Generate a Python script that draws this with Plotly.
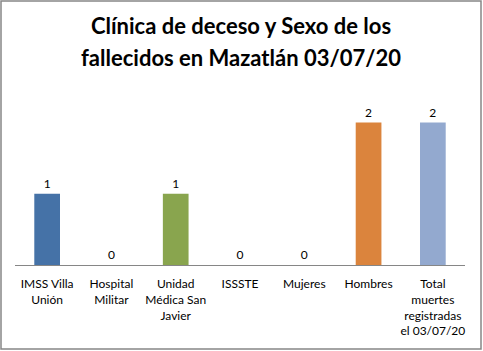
import plotly.graph_objects as go

categories = ["IMSS Villa<br>Unión", "Hospital<br>Militar", "Unidad<br>Médica San<br>Javier",
              "ISSSTE", "Mujeres", "Hombres", "Total<br>muertes<br>registradas<br>el 03/07/20"]
values = [1, 0, 1, 0, 0, 2, 2]
colors = ["#4572A7", "#AA4643", "#89A54E", "#71588F", "#4198AF", "#DB843D", "#93A9CF"]
title_lines = ["Clínica de deceso y Sexo de los", "fallecidos en Mazatlán 03/07/20"]

W, H = 483, 351
ml, mr, mt, mb = 15, 18, 87, 86
PW, PH = W - ml - mr, H - mt - mb
FONT = "Lato, Open Sans, sans-serif"

fig = go.Figure(go.Bar(
    x=categories, y=values, marker=dict(color=colors, line=dict(width=0)),
    text=[str(v) for v in values], textposition="outside", cliponaxis=False,
    textfont=dict(family=FONT, size=12, color="#000000"),
))

annotations = []
for i, (line, ypix) in enumerate(zip(title_lines, [25, 57])):
    annotations.append(dict(
        text="<b>" + line + "</b>", xref="paper", yref="paper",
        x=(241 - ml) / PW, y=1 + (mt - ypix) / PH, xanchor="center", yanchor="middle",
        showarrow=False, font=dict(family=FONT, size=22, color="#000000")))

fig.update_layout(
    width=W, height=H,
    margin=dict(l=ml, r=mr, t=mt, b=mb),
    paper_bgcolor="white", plot_bgcolor="white",
    bargap=0.6, showlegend=False,
    annotations=annotations,
    xaxis=dict(showline=True, linecolor="#868686", linewidth=1, ticks="",
               ticklabelstandoff=8,
               tickfont=dict(family=FONT, size=12, color="#000000"), fixedrange=True),
    yaxis=dict(range=[0, 2.5], visible=False, showgrid=False, zeroline=False),
    shapes=[dict(type="rect", xref="paper", yref="paper",
                 x0=-(ml - 1) / PW, x1=1 + (mr - 2) / PW,
                 y0=-(mb - 2) / PH, y1=1 + (mt - 1) / PH,
                 line=dict(color="#868686", width=1.5), fillcolor="rgba(0,0,0,0)")],
)

fig.write_html("out.html")
